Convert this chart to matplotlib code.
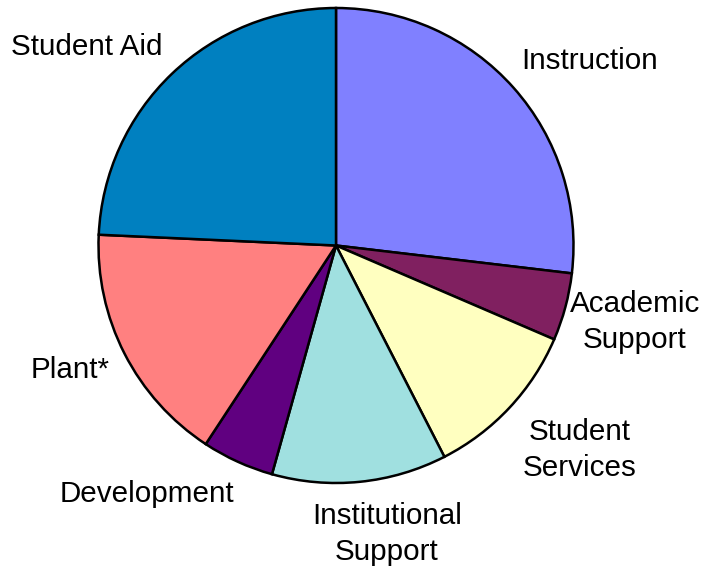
import matplotlib.pyplot as plt

# slice data (clockwise from 12 o'clock)
categories = ["Instruction", "Academic\nSupport", "Student\nServices", "Institutional\nSupport",
              "Development", "Plant*", "Student Aid"]
shares = [26.9, 4.6, 11.0, 11.9, 4.9, 16.5, 24.3]
colors = ["#8080FF", "#802060", "#FFFFC0", "#A0E0E0", "#600080", "#FF8080", "#0080C0"]

# label anchor points (pixel space, origin top-left)
label_pos = [(590, 61), (635, 322), (580, 450), (387, 534), (147, 494), (70, 370), (87, 47)]

W, H = 708, 567
fig = plt.figure(figsize=(W / 100, H / 100), dpi=100)
ax = fig.add_axes([0, 0, 1, 1])
ax.set_xlim(0, W)
ax.set_ylim(0, H)
ax.set_aspect("equal")
ax.axis("off")

ax.pie(shares, colors=colors, startangle=90, counterclock=False,
       center=(336, H - 245.5), radius=237.5,
       wedgeprops=dict(edgecolor="black", linewidth=1.8))
ax.set_xlim(0, W)
ax.set_ylim(0, H)

for lab, (x, y) in zip(categories, label_pos):
    ax.text(x, H - y, lab, ha="center", va="center", fontsize=21.3,
            family="Liberation Sans", linespacing=1.38)

fig.savefig("out.png", dpi=100)
